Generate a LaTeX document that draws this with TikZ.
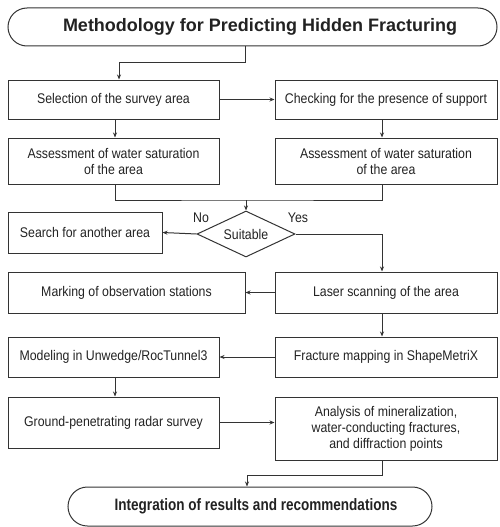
\documentclass[tikz,border=0pt]{standalone}
\usepackage{fontspec}
\setmainfont{Liberation Sans}
\newfontfamily\narrowfont[FakeStretch=0.88]{Liberation Sans}
\newfontfamily\condfont[FakeStretch=0.82]{Liberation Sans}
\usetikzlibrary{arrows.meta,shapes.geometric}
\definecolor{ink}{HTML}{222222}
\definecolor{ln}{HTML}{333333}
\begin{document}
\begin{tikzpicture}[x=1pt,y=-1pt,
  box/.style={draw=ln,line width=1pt,rectangle,inner sep=2pt,align=center,text=ink,
    font=\narrowfont\fontsize{14}{16}\selectfont},
  term/.style={draw=ln,line width=1pt,rectangle,align=center,text=ink},
  dec/.style={draw=ln,line width=1pt,diamond,inner sep=0pt,text=ink,
    font=\narrowfont\fontsize{14}{16}\selectfont},
  lab/.style={text=ink,inner sep=0pt,font=\narrowfont\fontsize{14}{16}\selectfont},
  con/.style={draw=ln,line width=1pt},
  arr/.style={con,-{Stealth[length=5pt,width=4pt]}}]
\useasboundingbox (0,0) rectangle (499,527);
% terminals
\node[term,rounded corners=19pt,minimum width=489pt,minimum height=38pt,
  font=\bfseries\fontsize{18}{20}\selectfont] (title) at (252.5,27)
  {\hspace*{15pt}Methodology for Predicting Hidden Fracturing};
\node[term,rounded corners=19.5pt,minimum width=364pt,minimum height=39pt,
  font=\condfont\bfseries\fontsize{16.5}{18}\selectfont] (final) at (250,506.5)
  {\hspace*{12pt}Integration of results and recommendations};
% boxes
\node[box,minimum width=211pt,minimum height=39pt] (sel) at (113.5,99.5) {Selection of the survey area};
\node[box,minimum width=222pt,minimum height=39pt] (chk) at (386,99.5) {Checking for the presence of support};
\node[box,minimum width=211pt,minimum height=46pt] (ass1) at (113.5,161) {Assessment of water saturation\\of the area};
\node[box,minimum width=222pt,minimum height=46pt] (ass2) at (386,161) {Assessment of water saturation\\of the area};
\node[dec,minimum width=98pt,minimum height=46pt,aspect=2.13] (dia) at (246,234) {Suitable};
\node[box,minimum width=154pt,minimum height=41pt] (search) at (85,232.5) {Search for another area};
\node[box,minimum width=237pt,minimum height=41pt] (mark) at (126.5,292.5) {Marking of observation stations};
\node[box,minimum width=222pt,minimum height=41pt] (laser) at (386,292.5) {Laser scanning of the area};
\node[box,minimum width=211pt,minimum height=40pt] (model) at (113.5,357) {Modeling in Unwedge/RocTunnel3};
\node[box,minimum width=222pt,minimum height=40pt] (frac) at (386,357) {Fracture mapping in ShapeMetriX};
\node[box,minimum width=211pt,minimum height=51pt] (gpr) at (113.5,422.5) {Ground-penetrating radar survey};
\node[box,minimum width=222pt,minimum height=63pt] (ana) at (386,428.5) {Analysis of mineralization,\\water-conducting fractures,\\and diffraction points};
% labels
\node[lab] (no) at (201,218) {No};
\node[lab] (yes) at (298,218) {Yes};
% connectors
\coordinate (t1) at (245,63);
\draw[arr] ([xshift=-7.5pt]title.south) -- (t1) -| ([xshift=5.5pt]sel.north);
\draw[arr] (sel.east) -- (chk.west);
\draw[arr] ([xshift=1.5pt]sel.south) -- ([xshift=1.5pt]ass1.north);
\draw[arr] ([xshift=-4pt]chk.south) -- ([xshift=-4pt]ass2.north);
\coordinate (j) at (246,200);
\draw[con] ([xshift=1.5pt]ass1.south) |- (j) -| ([xshift=-4pt]ass2.south);
\draw[arr] (j) -- (dia.north);
\draw[arr] (dia.west) -- (search.east);
\draw[arr] (dia.east) -| ([xshift=-4pt]laser.north);
\draw[arr] (laser.west) -- (mark.east);
\draw[arr] ([xshift=-4pt]laser.south) -- ([xshift=-4pt]frac.north);
\draw[arr] (frac.west) -- (model.east);
\draw[arr] ([xshift=1.5pt]model.south) -- ([xshift=1.5pt]gpr.north);
\draw[arr] (gpr.east) -- (gpr.east -| ana.west);
\coordinate (k) at (382,475);
\draw[arr] ([xshift=-4pt]ana.south) -- (k) -| ([xshift=-3pt]final.north);
\end{tikzpicture}
\end{document}
